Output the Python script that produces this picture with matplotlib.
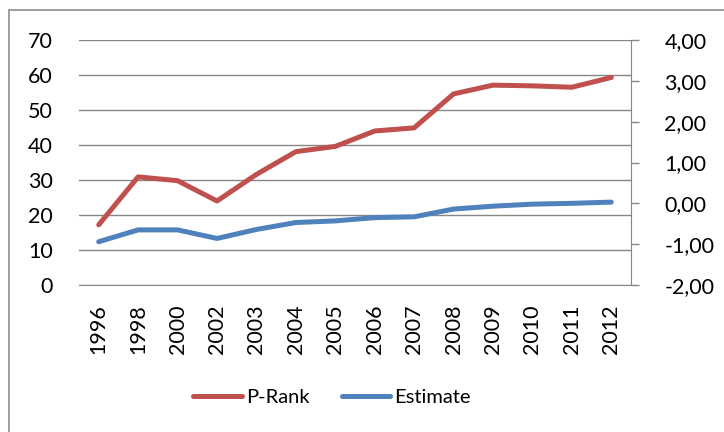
import matplotlib.pyplot as plt
import numpy as np
from matplotlib.ticker import FuncFormatter
from matplotlib.patches import Rectangle

years = ["1996", "1998", "2000", "2002", "2003", "2004", "2005",
         "2006", "2007", "2008", "2009", "2010", "2011", "2012"]
p_rank = [17.2, 30.9, 29.8, 24.0, 31.6, 38.1, 39.6,
          44.0, 44.9, 54.6, 57.1, 56.9, 56.5, 59.3]
estimate = [-0.94, -0.65, -0.65, -0.86, -0.64, -0.47, -0.43,
            -0.35, -0.33, -0.14, -0.07, -0.02, 0.00, 0.03]

red = '#C0504D'
blue = '#4F81BD'
grid_gray = '#868686'

plt.rcParams['font.family'] = ['Lato', 'DejaVu Sans']
fs = 15.5

fig = plt.figure(figsize=(7.24, 4.32), dpi=100)
ax = fig.add_axes([79 / 724, 1 - 285 / 432, (631 - 79) / 724, (285 - 40) / 432])
ax2 = ax.twinx()

x = np.arange(len(years))
l1, = ax.plot(x, p_rank, color=red, linewidth=3.6, solid_capstyle='round', label='P-Rank')
l2, = ax2.plot(x, estimate, color=blue, linewidth=3.6, solid_capstyle='round', label='Estimate')

ax.set_xlim(-0.5, len(years) - 0.5)
ax.set_ylim(0, 70)
ax.set_yticks(np.arange(0, 71, 10))
ax2.set_ylim(-2, 4)
ax2.set_yticks(np.arange(-2, 4.1, 1))
ax2.yaxis.set_major_formatter(FuncFormatter(lambda v, p: f"{v:.2f}".replace('.', ',')))

ax.set_xticks(x)
ax.set_xticklabels(years, rotation=90, fontsize=fs)
ax.tick_params(axis='x', length=0, pad=14)
ax.tick_params(axis='y', length=0, pad=19, labelsize=fs)
ax2.tick_params(axis='y', length=6, color=grid_gray, width=1, pad=18, labelsize=fs)

ax.grid(axis='y', color=grid_gray, linewidth=1)
ax.set_axisbelow(True)
for s in ['top', 'left', 'right']:
    ax.spines[s].set_visible(False)
ax.spines['bottom'].set_color(grid_gray)
for s in ['top', 'left', 'bottom']:
    ax2.spines[s].set_visible(False)
ax2.spines['right'].set_color(grid_gray)

fig.legend([l1, l2], ['P-Rank', 'Estimate'], loc='center', bbox_to_anchor=(332 / 724, 1 - 397 / 432),
           ncol=2, frameon=False, fontsize=14.5, handlelength=2.4, handletextpad=0.2,
           columnspacing=1.6)

# outer chart border
fig.patches.append(Rectangle((9 / 724, -0.1), 1.0, 1 - 10 / 432 + 0.1, transform=fig.transFigure,
                             fill=False, edgecolor='#8c8c8c', linewidth=1.2))

fig.savefig('out.png', dpi=100)
